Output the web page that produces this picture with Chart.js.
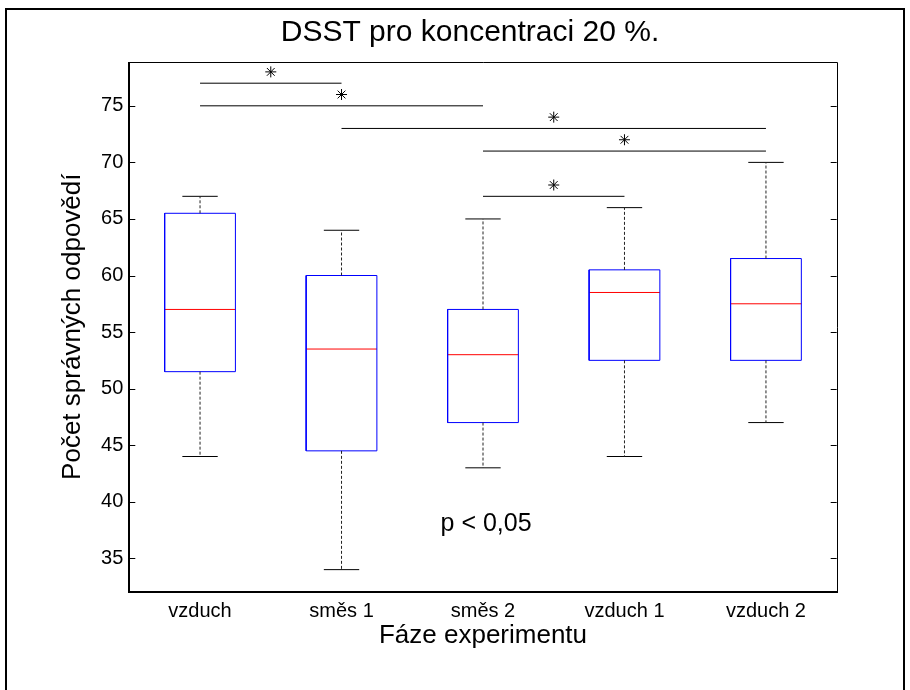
<!DOCTYPE html>
<html><head><meta charset="utf-8">
<script src="https://cdn.jsdelivr.net/npm/chart.js@4.4.0/dist/chart.umd.min.js"></script>
<style>
html,body{margin:0;padding:0;background:#fff;}
#wrap{position:relative;width:910px;height:690px;overflow:hidden;background:#fff;}
#frame{position:absolute;left:5px;top:8px;width:900px;height:700px;border:2px solid #000;box-sizing:border-box;pointer-events:none;}
canvas{position:absolute;left:0;top:0;}
</style></head><body>
<div id="wrap"><canvas id="c" width="910" height="690"></canvas><div id="frame"></div></div>
<script>
// ---- data ----
const categories = ['vzduch', 'směs 1', 'směs 2', 'vzduch 1', 'vzduch 2'];
const whiskerLow  = [44, 34, 43, 44, 47];
const q1          = [51.5, 44.5, 47, 52.5, 52.5];
const median      = [57, 53.5, 53, 58.5, 57.5];
const q3          = [65.5, 60, 57, 60.5, 61.5];
const whiskerHigh = [67, 64, 65, 66, 70];
// significance brackets (group index 1-based)
const sigFrom  = [1, 1, 2, 3, 3];
const sigTo    = [2, 3, 5, 5, 4];
const sigLevel = [77, 75, 73, 71, 67];
const sigStar  = [78, 76, 74, 72, 68];
const yTicks = [35, 40, 45, 50, 55, 60, 65, 70, 75];
const yMin = 32.05, yMax = 78.9;
const xMin = 0.5, xMax = 5.5;
const titleText = 'DSST pro koncentraci 20 %.';
const xTitle = 'Fáze experimentu';
const yTitle = 'Počet správných odpovědí';
const pText = 'p < 0,05';
const pTextX = 2.7, pTextY = 38;

const FONT = "'Liberation Sans', Arial, sans-serif";
const BOX_HALF = 0.25, CAP_HALF = 0.125;

// ---- build line geometry from data ----
const boxPts = [], medPts = [], whiskPts = [], capPts = [], sigPts = [], starPts = [];
categories.forEach((c, i) => {
  const x = i + 1;
  boxPts.push({x: x - BOX_HALF, y: q1[i]}, {x: x + BOX_HALF, y: q1[i]}, {x: x + BOX_HALF, y: q3[i]},
              {x: x - BOX_HALF, y: q3[i]}, {x: x - BOX_HALF, y: q1[i]}, {x: x, y: null});
  medPts.push({x: x - BOX_HALF, y: median[i]}, {x: x + BOX_HALF, y: median[i]}, {x: x, y: null});
  whiskPts.push({x: x, y: q3[i]}, {x: x, y: whiskerHigh[i]}, {x: x, y: null},
                {x: x, y: q1[i]}, {x: x, y: whiskerLow[i]}, {x: x, y: null});
  capPts.push({x: x - CAP_HALF, y: whiskerHigh[i]}, {x: x + CAP_HALF, y: whiskerHigh[i]}, {x: x, y: null},
              {x: x - CAP_HALF, y: whiskerLow[i]}, {x: x + CAP_HALF, y: whiskerLow[i]}, {x: x, y: null});
});
sigFrom.forEach((f, k) => {
  sigPts.push({x: f, y: sigLevel[k]}, {x: sigTo[k], y: sigLevel[k]}, {x: f, y: null});
  starPts.push({x: (f + sigTo[k]) / 2, y: sigStar[k]});
});

const lineDs = (label, data, color, dash) => ({
  label, data, showLine: true, borderColor: color, backgroundColor: color,
  borderWidth: 1, pointRadius: 0, pointHoverRadius: 0, borderDash: dash || [],
  spanGaps: false, tension: 0, fill: false
});

const framePlugin = {
  id: 'frame',
  afterDatasetsDraw(chart) {
    const {ctx, chartArea: a, scales} = chart;
    ctx.save();
    ctx.strokeStyle = '#000';
    ctx.lineWidth = 1;
    ctx.beginPath();
    ctx.moveTo(Math.round(a.left), Math.round(a.top) + 0.5);
    ctx.lineTo(Math.round(a.right) + 0.5, Math.round(a.top) + 0.5);
    ctx.lineTo(Math.round(a.right) + 0.5, Math.round(a.bottom));
    ctx.stroke();
    ctx.lineWidth = 2;
    ctx.beginPath();
    ctx.moveTo(Math.round(a.left), Math.round(a.top));
    ctx.lineTo(Math.round(a.left), Math.round(a.bottom));
    ctx.lineTo(Math.round(a.right) + 1, Math.round(a.bottom));
    ctx.stroke();
    ctx.lineWidth = 1;
    yTicks.forEach(v => {
      const y = Math.round(scales.y.getPixelForValue(v)) + 0.5;
      ctx.beginPath();
      ctx.moveTo(a.left, y); ctx.lineTo(a.left + 6, y);
      ctx.moveTo(a.right, y); ctx.lineTo(a.right - 6, y);
      ctx.stroke();
    });
    ctx.fillStyle = '#000';
    ctx.font = '25px ' + FONT;
    ctx.textAlign = 'left';
    ctx.textBaseline = 'middle';
    ctx.fillText(pText, scales.x.getPixelForValue(pTextX), scales.y.getPixelForValue(pTextY));
    ctx.font = '30px ' + FONT;
    ctx.textAlign = 'center';
    ctx.fillText(titleText, 470, 32.5);
    ctx.restore();
  }
};

new Chart(document.getElementById('c'), {
  type: 'scatter',
  data: {
    datasets: [
      lineDs('whiskers', whiskPts, '#222222', [3, 2]),
      lineDs('caps', capPts, '#000000'),
      lineDs('boxes', boxPts, '#0000ff'),
      lineDs('medians', medPts, '#ff0000'),
      lineDs('significance', sigPts, '#000000'),
      {
        label: 'stars', data: starPts, showLine: false, pointStyle: 'star',
        pointRadius: 5.5, pointHoverRadius: 5.5, borderColor: '#000', backgroundColor: '#000', pointBorderWidth: 1
      }
    ]
  },
  options: {
    responsive: false,
    animation: false,
    events: [],
    layout: {padding: {top: 61.7, right: 73.3, bottom: 0, left: 0}},
    plugins: {legend: {display: false}, tooltip: {enabled: false}, title: {display: false}},
    scales: {
      x: {
        type: 'linear', min: xMin, max: xMax,
        afterBuildTicks: s => { s.ticks = categories.map((c, i) => ({value: i + 1})); },
        afterFit: s => { s.height = 98.3; },
        ticks: {
          callback: v => categories[Math.round(v) - 1] || '',
          font: {family: FONT, size: 20}, color: '#000', padding: 7.3, maxRotation: 0, autoSkip: false
        },
        grid: {display: false, drawTicks: false},
        border: {display: false},
        title: {display: true, text: xTitle, color: '#000', font: {family: FONT, size: 26}, padding: {top: 0, bottom: 38.4}}
      },
      y: {
        type: 'linear', min: yMin, max: yMax,
        afterBuildTicks: s => { s.ticks = yTicks.map(v => ({value: v})); },
        afterFit: s => { s.width = 129.3; },
        ticks: {font: {family: FONT, size: 20}, color: '#000', padding: 6},
        grid: {display: false, drawTicks: false},
        border: {display: false},
        title: {display: true, text: yTitle, color: '#000', font: {family: FONT, size: 26}, padding: {top: 57.2, bottom: 0}}
      }
    }
  },
  plugins: [framePlugin]
});
</script>
</body></html>
